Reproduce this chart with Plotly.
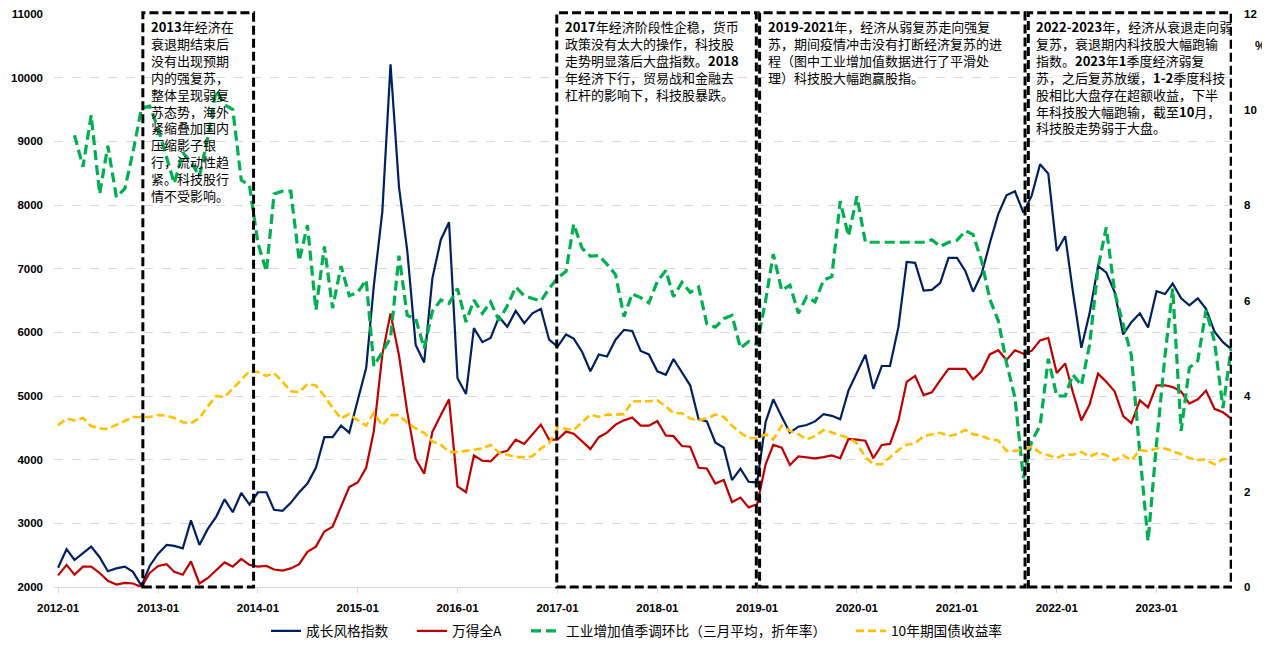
import pandas as pd
import plotly.graph_objects as go

# ---------------- data ----------------
dates = pd.date_range("2012-01-01", periods=142, freq="MS")

growth_index = [
    2303, 2595, 2424, 2534, 2634, 2468, 2248, 2292, 2320, 2237, 2017, 2330,
    2523, 2661, 2645, 2606, 3047, 2661, 2909, 3102, 3377, 3174, 3477, 3295,
    3488, 3488, 3212, 3196, 3322, 3488, 3625, 3873, 4353, 4353, 4534, 4424,
    4920, 5443, 6738, 7895, 10209, 8281, 7289, 5802, 5526, 6848, 7455, 7730,
    5278, 5030, 6066, 5846, 5912, 6242, 6088, 6336, 6143, 6298, 6369, 5884,
    5774, 5967, 5901, 5691, 5388, 5653, 5620, 5884, 6039, 6022, 5708, 5653,
    5388, 5333, 5581, 5361, 5168, 4634, 4601, 4270, 4187, 3680, 3857, 3653,
    3642, 4590, 4948, 4672, 4424, 4518, 4545, 4601, 4716, 4689, 4634, 5085,
    5372, 5647, 5113, 5471, 5471, 6088, 7107, 7091, 6656, 6667, 6777, 7168,
    7168, 6959, 6639, 6915, 7399, 7857, 8154, 8215, 7879, 8143, 8639, 8490,
    7278, 7510, 6639, 5758, 6298, 7041, 6942, 6628, 5967, 6160, 6298, 6077,
    6645, 6601, 6766, 6534, 6424, 6534, 6369, 6011, 5846, 5736,
]

wind_all_a = [
    2182, 2347, 2193, 2320, 2320, 2220, 2099, 2039, 2066, 2055, 2000, 2220,
    2330, 2358, 2237, 2193, 2402, 2055, 2138, 2264, 2386, 2320, 2441, 2347,
    2320, 2330, 2275, 2259, 2292, 2358, 2551, 2634, 2871, 2948, 3251, 3570,
    3642, 3873, 4450, 5650, 6298, 5636, 4755, 4011, 3780, 4435, 4700, 4948,
    3581, 3488, 4066, 3983, 3972, 4105, 4138, 4314, 4248, 4397, 4551, 4314,
    4314, 4441, 4408, 4287, 4165, 4353, 4424, 4551, 4617, 4661, 4534, 4534,
    4606, 4380, 4369, 4215, 4204, 3873, 3862, 3625, 3680, 3333, 3405, 3251,
    3300, 3928, 4231, 4187, 3917, 4050, 4039, 4022, 4039, 4066, 4022, 4325,
    4314, 4298, 4022, 4231, 4248, 4617, 5223, 5317, 5014, 5058, 5251, 5427,
    5427, 5427, 5262, 5388, 5653, 5719, 5565, 5719, 5664, 5708, 5873, 5912,
    5361, 5510, 5058, 4617, 4865, 5350, 5223, 5069, 4683, 4573, 4931, 4821,
    5168, 5168, 5140, 5069, 4882, 4948, 5085, 4799, 4744, 4645,
]

industrial_va = [
    None, None, 9.46, 8.80, 9.88, 8.23, 9.24, 8.17, 8.34, 9.11, 10.03, 10.07,
    9.60, 9.00, 8.45, 9.10, 8.90, 8.60, 9.40, 10.40, 10.10, 10.00, 8.52, 8.41,
    7.20, 6.61, 8.23, 8.29, 8.29, 6.83, 7.58, 5.80, 7.13, 5.84, 6.72, 6.10,
    6.17, 6.43, 4.63, 4.92, 5.22, 6.94, 5.69, 5.62, 5.00, 5.77, 6.01, 5.94,
    6.25, 5.55, 6.01, 5.73, 5.97, 5.58, 5.89, 6.28, 6.10, 6.04, 5.99, 6.25,
    6.47, 6.61, 7.60, 7.09, 6.93, 6.94, 6.76, 6.54, 5.66, 6.14, 6.06, 5.95,
    6.40, 6.63, 6.08, 6.38, 6.17, 6.28, 5.51, 5.44, 5.62, 5.69, 5.00, 5.14,
    5.08, 6.00, 6.97, 6.21, 6.32, 5.73, 6.08, 5.97, 6.43, 6.50, 8.08, 7.35,
    8.18, 7.22, 7.22, 7.22, 7.22, 7.22, 7.22, 7.22, 7.22, 7.27, 7.13, 7.22,
    7.26, 7.46, 7.38, 6.83, 6.03, 5.58, 4.70, 3.97, 2.28, 3.05, 3.38, 4.78,
    4.00, 4.00, 4.45, 4.22, 5.07, 6.69, 7.53, 6.17, 5.51, 4.85, 2.79, 0.96,
    3.01, 4.85, 6.25, 3.27, 4.59, 4.74, 5.80, 5.14, 3.75, 5.00,
]

bond_10y = [
    3.39, 3.53, 3.49, 3.54, 3.37, 3.32, 3.31, 3.39, 3.47, 3.56, 3.56, 3.56,
    3.60, 3.59, 3.54, 3.45, 3.43, 3.54, 3.78, 4.00, 3.98, 4.15, 4.34, 4.52,
    4.50, 4.42, 4.48, 4.30, 4.10, 4.08, 4.25, 4.22, 4.00, 3.75, 3.53, 3.62,
    3.49, 3.38, 3.65, 3.38, 3.60, 3.60, 3.44, 3.32, 3.23, 3.05, 2.98, 2.83,
    2.83, 2.85, 2.87, 2.90, 2.98, 2.81, 2.77, 2.72, 2.72, 2.74, 2.90, 3.01,
    3.34, 3.31, 3.29, 3.45, 3.61, 3.56, 3.61, 3.61, 3.62, 3.89, 3.89, 3.89,
    3.91, 3.78, 3.64, 3.64, 3.53, 3.49, 3.53, 3.61, 3.56, 3.38, 3.23, 3.12,
    3.12, 3.20, 3.09, 3.38, 3.27, 3.20, 3.09, 3.16, 3.29, 3.23, 3.17, 3.12,
    3.01, 2.72, 2.57, 2.57, 2.72, 2.87, 2.98, 3.01, 3.16, 3.20, 3.23, 3.16,
    3.20, 3.29, 3.20, 3.17, 3.09, 3.07, 2.85, 2.85, 2.88, 2.94, 2.81, 2.76,
    2.70, 2.78, 2.77, 2.83, 2.73, 2.81, 2.76, 2.65, 2.76, 2.65, 2.87, 2.84,
    2.90, 2.90, 2.85, 2.78, 2.70, 2.66, 2.67, 2.57, 2.68, 2.68,
]

series_names = ["成长风格指数", "万得全A", "工业增加值季调环比（三月平均，折年率）", "10年期国债收益率"]

# period boxes (start, end) and their commentary
periods = [
    ("2012-11-06", "2013-12-16"),
    ("2016-12-29", "2018-12-29"),
    ("2019-01-10", "2021-09-07"),
    ("2021-09-19", "2023-10-01"),
]
period_texts = [
    ["<b>2013</b>年经济在", "衰退期结束后", "没有出现预期", "内的强复苏，", "整体呈现弱复",
     "苏态势，海外", "紧缩叠加国内", "压缩影子银", "行，流动性趋", "紧。科技股行", "情不受影响。"],
    ["<b>2017</b>年经济阶段性企稳，货币", "政策没有太大的操作，科技股",
     "走势明显落后大盘指数。<b>2018</b>", "年经济下行，贸易战和金融去", "杠杆的影响下，科技股暴跌。"],
    ["<b>2019-2021</b>年，经济从弱复苏走向强复", "苏，期间疫情冲击没有打断经济复苏的进",
     "程（图中工业增加值数据进行了平滑处", "理）科技股大幅跑赢股指。"],
    ["<b>2022-2023</b>年，经济从衰退走向弱", "复苏，衰退期内科技股大幅跑输",
     "指数。<b>2023</b>年<b>1</b>季度经济弱复", "苏，之后复苏放缓，<b>1-2</b>季度科技",
     "股相比大盘存在超额收益，下半", "年科技股大幅跑输，截至<b>10</b>月，", "科技股走势弱于大盘。"],
]

left_ticks = list(range(2000, 11001, 1000))
right_ticks = list(range(0, 13, 2))

# ---------------- figure ----------------
CJK = "Noto Sans CJK SC"
TICKFONT = dict(family="Liberation Sans", size=11.5, color="#000000", weight="bold")
FIG_W, FIG_H = 1262, 632   # page adds an 8px body margin; figure sized/offset to compensate

fig = go.Figure()
fig.add_trace(go.Scatter(x=dates, y=growth_index, name=series_names[0], mode="lines", legend="legend",
                         line=dict(color="#002060", width=2.2)))
fig.add_trace(go.Scatter(x=dates, y=wind_all_a, name=series_names[1], mode="lines", legend="legend2",
                         line=dict(color="#C00000", width=2.2)))
fig.add_trace(go.Scatter(x=dates, y=industrial_va, name=series_names[2], mode="lines", yaxis="y2",
                         legend="legend3", line=dict(color="#00B050", width=3.2, dash="10px,5px")))
fig.add_trace(go.Scatter(x=dates, y=bond_10y, name=series_names[3], mode="lines", yaxis="y2",
                         legend="legend4", line=dict(color="#FFC000", width=2.6, dash="8px,4px")))

shapes = []
annotations = []
for (s, e), lines in zip(periods, period_texts):
    shapes.append(dict(type="rect", xref="x", yref="paper", x0=s, x1=e, y0=0, y1=1.002,
                       line=dict(color="#000000", width=3, dash="9px,4px"),
                       fillcolor="rgba(0,0,0,0)", layer="above"))
    annotations.append(dict(xref="x", yref="paper", x=s, y=1.0, xanchor="left", yanchor="top",
                            xshift=6, yshift=-1, showarrow=False, align="left",
                            text="<br>".join(lines),
                            font=dict(family=CJK, size=13, color="#000000")))

annotations.append(dict(xref="paper", yref="paper", x=1.0245, y=0.944, xanchor="center",
                        yanchor="middle", showarrow=False, text="%",
                        font=dict(family="Liberation Sans", size=12, color="#000000", weight="bold")))


def legend_at(px_left):
    return dict(orientation="h", xref="container", yref="container",
                x=px_left / FIG_W, xanchor="left", y=1 - 623 / FIG_H, yanchor="middle",
                font=dict(family=CJK, size=13.7, color="#000000"),
                itemwidth=30, bgcolor="rgba(0,0,0,0)", borderwidth=0)


fig.update_layout(
    width=FIG_W, height=FIG_H,
    margin=dict(l=46, r=38, t=6, b=53, autoexpand=False),
    paper_bgcolor="white", plot_bgcolor="white",
    showlegend=True,
    legend=legend_at(258),
    legend2=legend_at(404),
    legend3=legend_at(518),
    legend4=legend_at(843),
    xaxis=dict(type="date", range=["2011-12-17", "2023-10-04"], tick0="2012-01-01", dtick="M12",
               tickformat="%Y-%m", showgrid=False, showline=True, linecolor="#d9d9d9", linewidth=1,
               ticks="outside", ticklen=5, tickcolor="#d9d9d9", tickfont=TICKFONT, zeroline=False,
               ticklabelstandoff=5),
    yaxis=dict(range=[2000, 11000], tickvals=left_ticks, tickformat="d", showgrid=True,
               gridcolor="#d9d9d9", griddash="dash", gridwidth=1, zeroline=False, showline=False,
               tickfont=TICKFONT, ticks="", ticklabelstandoff=10),
    yaxis2=dict(range=[0, 12], tickvals=right_ticks, tickformat="d", overlaying="y", side="right",
                showgrid=False, zeroline=False, showline=False, tickfont=TICKFONT, ticks="",
                ticklabelstandoff=11),
    shapes=shapes,
    annotations=annotations,
)

fig.write_html("out.html")
